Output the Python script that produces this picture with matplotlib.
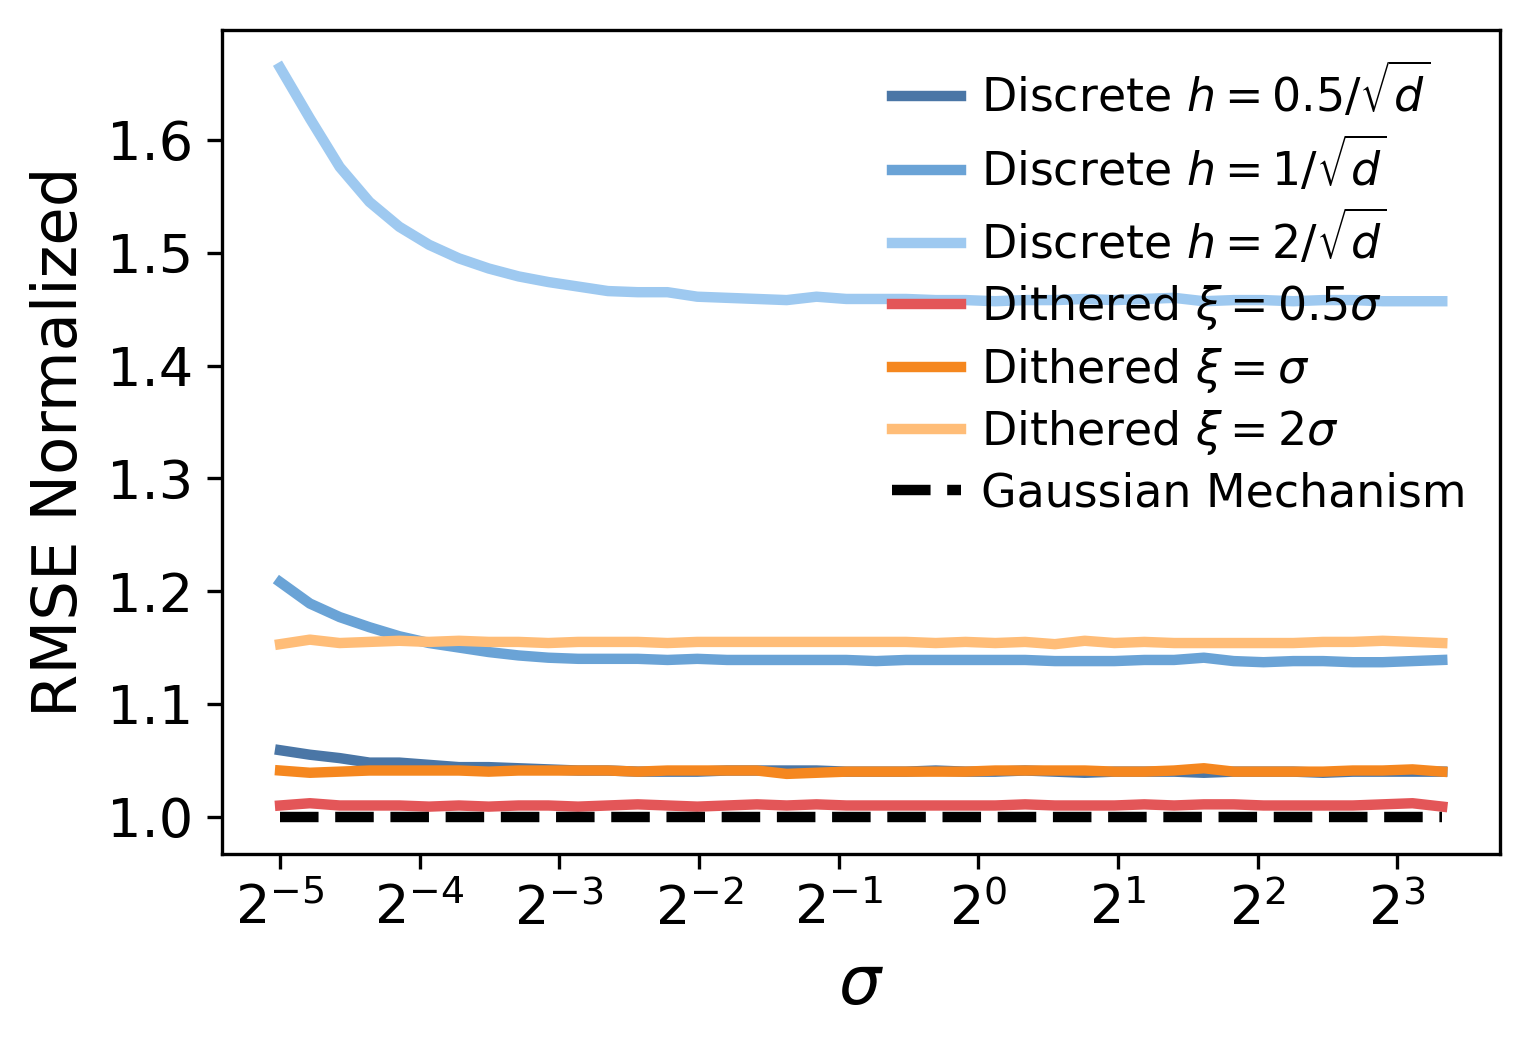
import numpy as np
import matplotlib
matplotlib.use('Agg')
import matplotlib.pyplot as plt
from matplotlib.ticker import LogLocator, MultipleLocator

# sigma grid (log spaced from 2^-5 to 10)
sigma = np.geomspace(2**-5, 10, 40)

disc_05 = [1.059, 1.055, 1.052, 1.048, 1.048, 1.046, 1.044, 1.044, 1.043, 1.042,
           1.041, 1.041, 1.040, 1.040, 1.040, 1.041, 1.041, 1.041, 1.041, 1.040,
           1.040, 1.040, 1.041, 1.040, 1.040, 1.041, 1.040, 1.039, 1.040, 1.040,
           1.040, 1.039, 1.040, 1.040, 1.040, 1.039, 1.040, 1.040, 1.040, 1.040]
disc_1 = [1.208, 1.189, 1.177, 1.168, 1.160, 1.154, 1.150, 1.146, 1.143, 1.141,
          1.140, 1.140, 1.140, 1.139, 1.140, 1.139, 1.139, 1.139, 1.139, 1.139,
          1.138, 1.139, 1.139, 1.139, 1.139, 1.139, 1.138, 1.138, 1.138, 1.139,
          1.139, 1.141, 1.138, 1.137, 1.138, 1.138, 1.137, 1.137, 1.138, 1.139]
disc_2 = [1.664, 1.619, 1.576, 1.545, 1.523, 1.507, 1.495, 1.486, 1.479, 1.474,
          1.470, 1.466, 1.465, 1.465, 1.461, 1.460, 1.459, 1.458, 1.461, 1.459,
          1.459, 1.459, 1.458, 1.458, 1.457, 1.458, 1.458, 1.459, 1.458, 1.459,
          1.460, 1.457, 1.458, 1.458, 1.457, 1.458, 1.458, 1.457, 1.457, 1.457]
dith_05 = [1.010, 1.012, 1.010, 1.010, 1.010, 1.009, 1.010, 1.009, 1.010, 1.010,
           1.009, 1.010, 1.011, 1.010, 1.009, 1.010, 1.011, 1.010, 1.011, 1.010,
           1.010, 1.010, 1.010, 1.010, 1.010, 1.011, 1.010, 1.010, 1.010, 1.011,
           1.010, 1.011, 1.011, 1.010, 1.010, 1.010, 1.010, 1.011, 1.012, 1.009]
dith_1 = [1.041, 1.039, 1.040, 1.041, 1.041, 1.041, 1.041, 1.040, 1.041, 1.041,
          1.041, 1.041, 1.040, 1.041, 1.041, 1.041, 1.041, 1.038, 1.039, 1.040,
          1.040, 1.040, 1.040, 1.040, 1.041, 1.041, 1.041, 1.041, 1.040, 1.040,
          1.041, 1.043, 1.040, 1.040, 1.040, 1.040, 1.041, 1.041, 1.042, 1.040]
dith_2 = [1.153, 1.157, 1.154, 1.155, 1.156, 1.155, 1.156, 1.155, 1.155, 1.154,
          1.155, 1.155, 1.155, 1.154, 1.155, 1.155, 1.155, 1.155, 1.155, 1.155,
          1.155, 1.155, 1.154, 1.155, 1.154, 1.155, 1.153, 1.156, 1.154, 1.155,
          1.154, 1.154, 1.154, 1.154, 1.154, 1.155, 1.155, 1.156, 1.155, 1.154]
gauss = [1.0] * 40

fig = plt.figure(figsize=(1531 / 300, 1043 / 300), dpi=300)
ax = fig.add_axes([0.145, 0.181, 0.835, 0.790])

lw = 2.5
ax.plot(sigma, disc_05, color='#4a76a6', lw=lw, label=r'Discrete $h=0.5/\sqrt{d}$')
ax.plot(sigma, disc_1, color='#6aa3d6', lw=lw, label=r'Discrete $h=1/\sqrt{d}$')
ax.plot(sigma, disc_2, color='#9ec9f0', lw=lw, label=r'Discrete $h=2/\sqrt{d}$')
ax.plot(sigma, dith_05, color='#e35658', lw=lw, label=r'Dithered $\xi=0.5\sigma$')
ax.plot(sigma, dith_1, color='#f5871f', lw=lw, label=r'Dithered $\xi=\sigma$')
ax.plot(sigma, dith_2, color='#ffbd78', lw=lw, label=r'Dithered $\xi=2\sigma$')
ax.plot(sigma, gauss, color='black', lw=lw, ls='--', label='Gaussian Mechanism')

ax.set_xscale('log', base=2)
ax.xaxis.set_major_locator(LogLocator(base=2, numticks=20))
ax.yaxis.set_major_locator(MultipleLocator(0.1))
ax.set_xlabel(r'$\sigma$', fontsize=16)
ax.set_ylabel('RMSE Normalized', fontsize=15)
ax.tick_params(axis='both', labelsize=13)
ax.legend(frameon=False, loc='upper right', fontsize=11, handlelength=1.5,
          handletextpad=0.45, labelspacing=0.3, bbox_to_anchor=(1.006, 1.011))

plt.savefig('out.png', dpi=300)
